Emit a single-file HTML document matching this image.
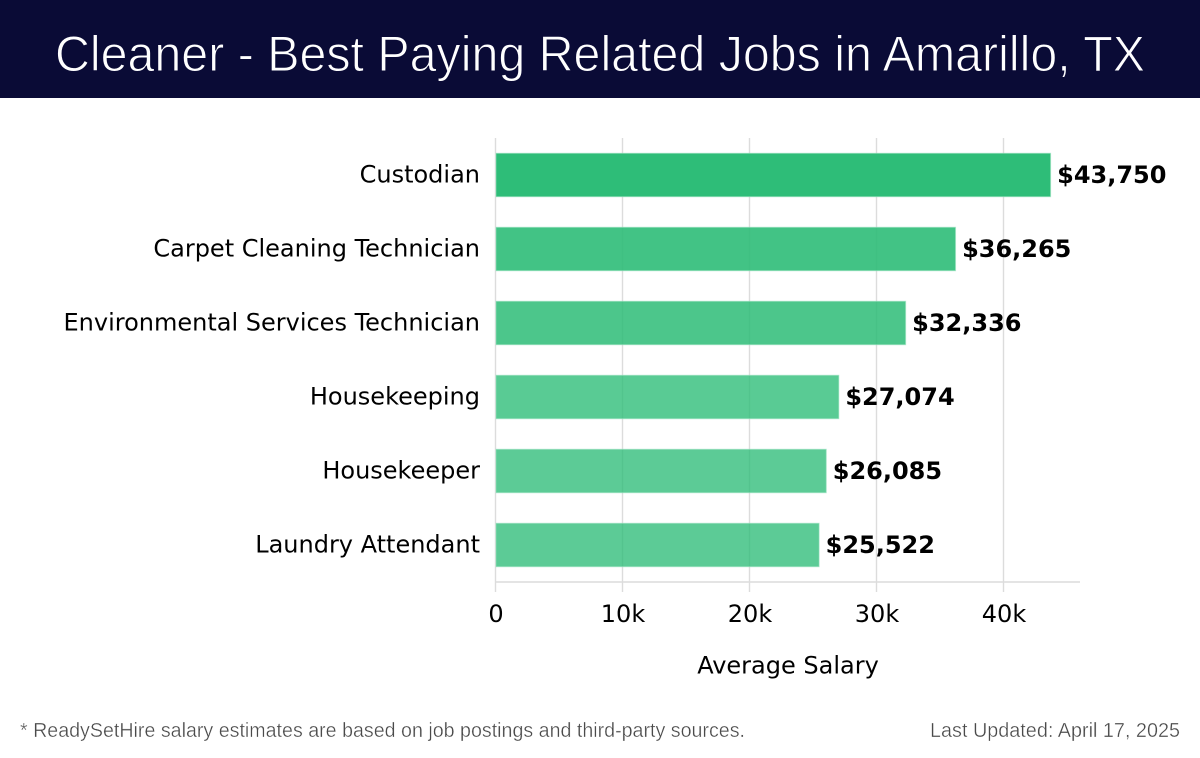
<!DOCTYPE html>
<html lang="en">
<head>
<meta charset="utf-8">
<title>Cleaner - Best Paying Related Jobs in Amarillo, TX</title>
<style>
html,body{margin:0;padding:0;background:#fff;width:1200px;height:758px;overflow:hidden}
svg{display:block}
</style>
</head>
<body>
<svg id="chart" xmlns="http://www.w3.org/2000/svg" width="1200" height="758" viewBox="0 0 1200 758">
  <rect x="0" y="0" width="1200" height="98" fill="#0a0b36"/>
  <text x="600" y="71" text-anchor="middle" textLength="1090" lengthAdjust="spacingAndGlyphs" font-family="'Liberation Sans',sans-serif" font-size="50" fill="#ffffff" stroke="#0a0b36" stroke-width="1" paint-order="fill stroke">Cleaner - Best Paying Related Jobs in Amarillo, TX</text>
  <g id="grid"></g>
  <g id="bars"></g>
  <g id="axes"></g>
  <g id="labels"></g>
  <text x="788" y="673.5" text-anchor="middle" font-family="'DejaVu Sans',sans-serif" font-size="24" fill="#000">Average Salary</text>
  <text x="20" y="737" textLength="725" lengthAdjust="spacingAndGlyphs" font-family="'Liberation Sans',sans-serif" font-size="20" fill="#4a4a4a" stroke="#ffffff" stroke-width="0.35" paint-order="fill stroke">* ReadySetHire salary estimates are based on job postings and third-party sources.</text>
  <text x="1180" y="737" text-anchor="end" textLength="250" lengthAdjust="spacingAndGlyphs" font-family="'Liberation Sans',sans-serif" font-size="20" fill="#4a4a4a" stroke="#ffffff" stroke-width="0.35" paint-order="fill stroke">Last Updated: April 17, 2025</text>
</svg>
<script>
const categories = ["Custodian", "Carpet Cleaning Technician", "Environmental Services Technician", "Housekeeping", "Housekeeper", "Laundry Attendant"];
const salaries = [43750, 36265, 32336, 27074, 26085, 25522];
const valueLabels = ["$43,750", "$36,265", "$32,336", "$27,074", "$26,085", "$25,522"];
const tickValues = [0, 10000, 20000, 30000, 40000];
const tickLabels = ["0", "10k", "20k", "30k", "40k"];

const NS = "http://www.w3.org/2000/svg";
const X0 = 495.5, PX_PER_UNIT = 127 / 10000;
const Y_FIRST = 175, Y_STEP = 74, BAR_H = 43.5;
const FONT = "'DejaVu Sans',sans-serif";
const xScale = v => X0 + v * PX_PER_UNIT;
const yScale = i => Y_FIRST + i * Y_STEP;
const maxSalary = Math.max(...salaries);
const barOpacity = v => Math.max(0.78, Math.min(1, 0.78 + (v - 26000) / (maxSalary - 26000) * 0.22));

function make(tag, attrs, parent, text) {
  const el = document.createElementNS(NS, tag);
  for (const k in attrs) el.setAttribute(k, attrs[k]);
  if (text !== undefined) el.textContent = text;
  parent.appendChild(el);
  return el;
}
const gridG = document.getElementById("grid");
const barsG = document.getElementById("bars");
const axesG = document.getElementById("axes");
const labelsG = document.getElementById("labels");

tickValues.forEach((t, i) => {
  const x = xScale(t);
  const line = make("line", {x1: x, x2: x, y1: 138, y2: 592, stroke: "#dcdcdc", "stroke-width": 1.4}, gridG);
  
  
  const label = make("text", {x: x + 0.5, y: 622, "text-anchor": "middle", "font-family": FONT, "font-size": 24, fill: "#000"}, axesG, tickLabels[i]);
  
  
});

const xAxis = make("line", {x1: X0, x2: 1080, y1: 582, y2: 582, stroke: "#dcdcdc", "stroke-width": 1.4}, axesG);



categories.forEach((c, i) => {
  const y = yScale(i);
  const bar = make("rect", {x: X0 + 0.5, y: y - BAR_H / 2, width: xScale(salaries[i]) - X0 - 1, height: BAR_H, fill: "#2ebd78", "fill-opacity": barOpacity(salaries[i]), stroke: "#9fe3c2", "stroke-opacity": 0.6, "stroke-width": 1}, barsG);
  
  
  const cat = make("text", {x: 480, y: y + 7.5, "text-anchor": "end", "font-family": FONT, "font-size": 24, fill: "#000"}, labelsG, c);
  
  
  const val = make("text", {x: xScale(salaries[i]) + 6, y: y + 8, "font-family": FONT, "font-size": 24, "font-weight": "bold", fill: "#000"}, labelsG, valueLabels[i]);
  
  
});
</script>
</body>
</html>
